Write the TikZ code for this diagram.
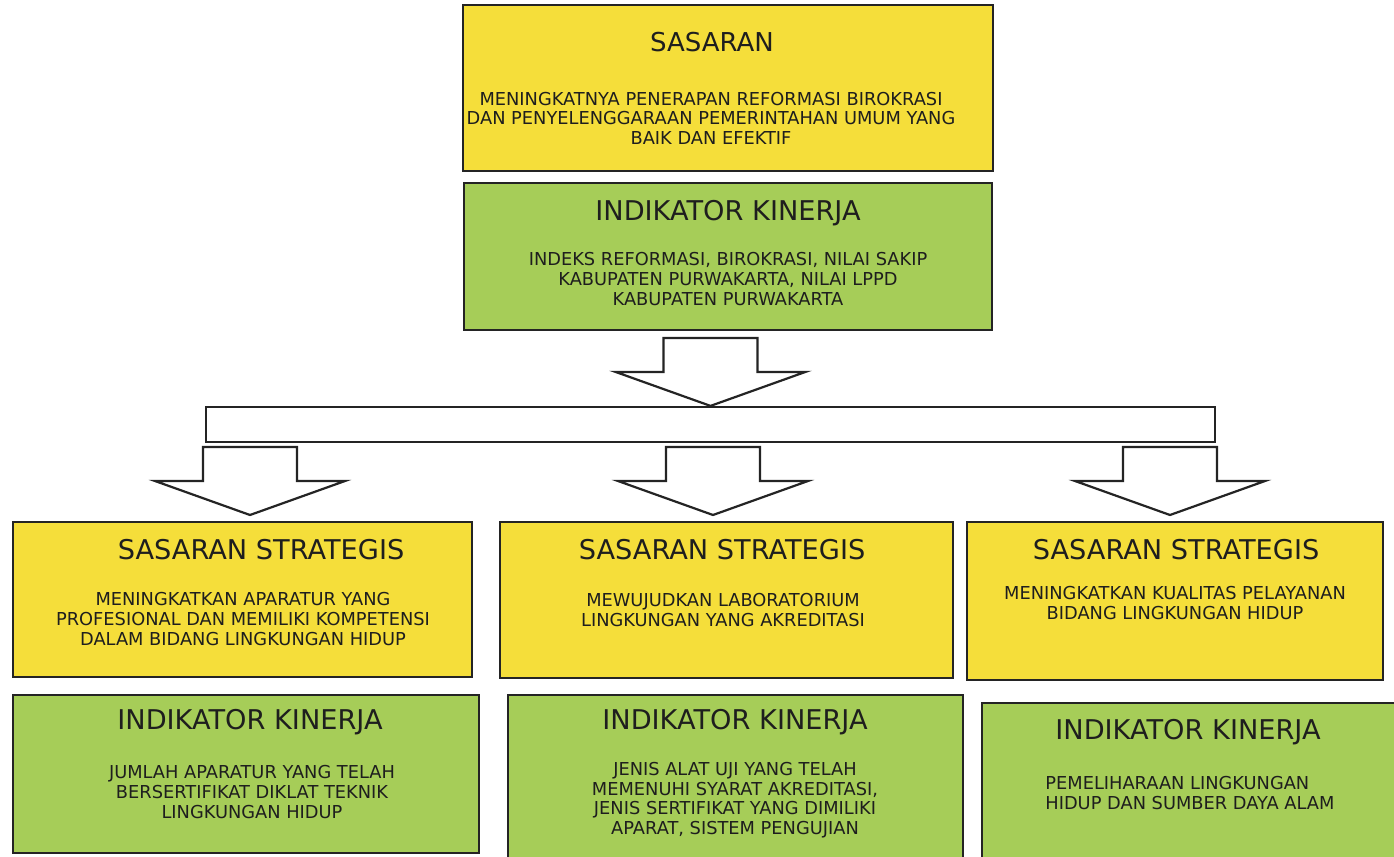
\documentclass[tikz,border=0pt]{standalone}
\usepackage{fontspec}
\setmainfont{DejaVu Sans}
\usetikzlibrary{fit}

\definecolor{kuning}{RGB}{245,222,58}
\definecolor{hijau}{RGB}{166,205,88}
\definecolor{garis}{RGB}{36,36,36}
\definecolor{tulisan}{RGB}{30,30,30}

\tikzset{
  kotak/.style={draw=garis, line width=1.1pt, inner sep=0pt},
  kotakkuning/.style={kotak, fill=kuning},
  kotakhijau/.style={kotak, fill=hijau},
  judul/.style={text=tulisan, inner sep=0pt, font=\fontsize{13.6}{15}\selectfont},
  isi/.style={text=tulisan, inner sep=0pt, align=center, font=\fontsize{8.9}{9.8}\selectfont},
  panahline/.style={draw=garis, line width=1.1pt, fill=white, line join=miter},
  panah/.pic={\path[panahline] (0,0) -- (-95,-34) -- (-47,-34) -- (-47,-68)
    -- (47,-68) -- (47,-34) -- (95,-34) -- cycle;}
}

\begin{document}
\begin{tikzpicture}[x=0.5pt,y=-0.5pt]
\clip (0,0) rectangle (1394,857);
\fill[white] (0,0) rectangle (1394,857);
% sasaran
\node[kotakkuning, fit={(463,5) (993,171)}] (sas) {};
\node[judul, font=\fontsize{13}{15}\selectfont] (sasJ) at (712,42) {SASARAN};
\node[isi] (sasI) at (711,118) {MENINGKATNYA PENERAPAN REFORMASI BIROKRASI\\
  DAN PENYELENGGARAAN PEMERINTAHAN UMUM YANG\\ BAIK DAN EFEKTIF};
% indikator kinerja
\node[kotakhijau, fit={(464,183) (992,330)}] (ind) {};
\node[judul] (indJ) at (728,213) {INDIKATOR KINERJA};
\node[isi] (indI) at (728,279) {INDEKS REFORMASI, BIROKRASI, NILAI SAKIP\\
  KABUPATEN PURWAKARTA, NILAI LPPD\\ KABUPATEN PURWAKARTA};
% palang
\node[kotak, fill=white, fit={(206,407) (1215,442)}] (palang) {};
\pic (p0) at (palang.north) {panah};
\coordinate (tip1) at (250,515);
\coordinate (tip2) at (713,515);
\coordinate (tip3) at (1170,515);
\pic (p1) at (tip1) {panah};
\pic (p2) at (tip2) {panah};
\pic (p3) at (tip3) {panah};
% sasaran strategis
\node[kotakkuning, fit={(13,522) (472,677)}] (ss1) {};
\node[judul] (ss1J) at (261,550) {SASARAN STRATEGIS};
\node[isi] (ss1I) at (243,619) {MENINGKATKAN APARATUR YANG\\
  PROFESIONAL DAN MEMILIKI KOMPETENSI\\ DALAM BIDANG LINGKUNGAN HIDUP};
\node[kotakkuning, fit={(500,522) (953,678)}] (ss2) {};
\node[judul] (ss2J) at (722,550) {SASARAN STRATEGIS};
\node[isi] (ss2I) at (723,610) {MEWUJUDKAN LABORATORIUM\\ LINGKUNGAN YANG AKREDITASI};
\node[kotakkuning, fit={(967,522) (1383,680)}] (ss3) {};
\node[judul] (ss3J) at (1176,550) {SASARAN STRATEGIS};
\node[isi] (ss3I) at (1175,603) {MENINGKATKAN KUALITAS PELAYANAN\\ BIDANG LINGKUNGAN HIDUP};
% indikator kinerja bawah
\node[kotakhijau, fit={(13,695) (479,853)}] (ik1) {};
\node[judul] (ik1J) at (250,722) {INDIKATOR KINERJA};
\node[isi] (ik1I) at (252,792) {JUMLAH APARATUR YANG TELAH\\
  BERSERTIFIKAT DIKLAT TEKNIK\\ LINGKUNGAN HIDUP};
\node[kotakhijau, fit={(508,695) (963,875)}] (ik2) {};
\node[judul] (ik2J) at (735,722) {INDIKATOR KINERJA};
\node[isi] (ik2I) at (735,800) {JENIS ALAT UJI YANG TELAH\\
  MEMENUHI SYARAT AKREDITASI,\\ JENIS SERTIFIKAT YANG DIMILIKI\\ APARAT, SISTEM PENGUJIAN};
\node[kotakhijau, fit={(982,703) (1400,875)}] (ik3) {};
\node[judul] (ik3J) at (1188,732) {INDIKATOR KINERJA};
\node[isi, align=left, anchor=west] (ik3I) at (1045,793) {PEMELIHARAAN LINGKUNGAN\\ HIDUP DAN SUMBER DAYA ALAM};
\end{tikzpicture}
\end{document}
